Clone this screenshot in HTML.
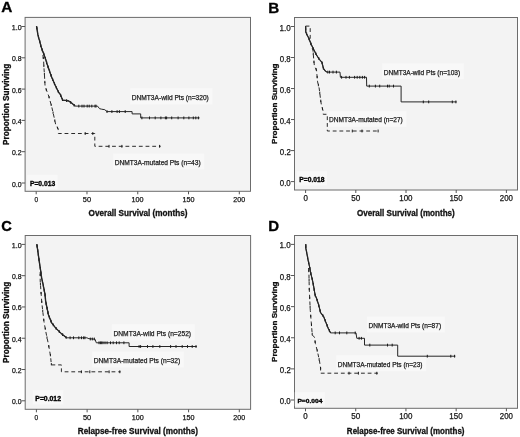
<!DOCTYPE html>
<html><head><meta charset="utf-8"><style>
html,body{margin:0;padding:0;background:#fff;width:520px;height:437px;overflow:hidden;}
svg{display:block;will-change:transform;filter:blur(0.3px);}
text{font-family:"Liberation Sans",sans-serif;}
</style></head><body>
<svg width="520" height="437" viewBox="0 0 520 437">
<rect x="25.1" y="17.4" width="225.4" height="173.9" fill="#f3f3f3" stroke="#6c6c6c" stroke-width="1"/>
<text x="1.22" y="12.30" font-size="14.2" font-weight="bold" stroke="#000" stroke-width="0.3" fill="#000" textLength="11.09" lengthAdjust="spacingAndGlyphs">A</text>
<line x1="21.6" y1="183.00" x2="25.1" y2="183.00" stroke="#555" stroke-width="1"/>
<text x="12.03" y="186.50" font-size="7.1" stroke="#151515" stroke-width="0.25" fill="#151515" textLength="9.54" lengthAdjust="spacingAndGlyphs">0.0</text>
<line x1="21.6" y1="151.70" x2="25.1" y2="151.70" stroke="#555" stroke-width="1"/>
<text x="12.03" y="155.20" font-size="7.1" stroke="#151515" stroke-width="0.25" fill="#151515" textLength="9.62" lengthAdjust="spacingAndGlyphs">0.2</text>
<line x1="21.6" y1="120.40" x2="25.1" y2="120.40" stroke="#555" stroke-width="1"/>
<text x="12.03" y="123.90" font-size="7.1" stroke="#151515" stroke-width="0.25" fill="#151515" textLength="9.47" lengthAdjust="spacingAndGlyphs">0.4</text>
<line x1="21.6" y1="89.10" x2="25.1" y2="89.10" stroke="#555" stroke-width="1"/>
<text x="12.03" y="92.60" font-size="7.1" stroke="#151515" stroke-width="0.25" fill="#151515" textLength="9.57" lengthAdjust="spacingAndGlyphs">0.6</text>
<line x1="21.6" y1="57.80" x2="25.1" y2="57.80" stroke="#555" stroke-width="1"/>
<text x="12.03" y="61.30" font-size="7.1" stroke="#151515" stroke-width="0.25" fill="#151515" textLength="9.57" lengthAdjust="spacingAndGlyphs">0.8</text>
<line x1="21.6" y1="26.50" x2="25.1" y2="26.50" stroke="#555" stroke-width="1"/>
<text x="11.76" y="30.00" font-size="7.1" stroke="#151515" stroke-width="0.25" fill="#151515" textLength="9.81" lengthAdjust="spacingAndGlyphs">1.0</text>
<line x1="36.20" y1="191.3" x2="36.20" y2="194.3" stroke="#555" stroke-width="1"/>
<text x="34.40" y="201.80" font-size="7.4" stroke="#151515" stroke-width="0.25" fill="#151515" textLength="3.61" lengthAdjust="spacingAndGlyphs">0</text>
<line x1="86.98" y1="191.3" x2="86.98" y2="194.3" stroke="#555" stroke-width="1"/>
<text x="82.83" y="201.80" font-size="7.4" stroke="#151515" stroke-width="0.25" fill="#151515" textLength="8.29" lengthAdjust="spacingAndGlyphs">50</text>
<line x1="137.75" y1="191.3" x2="137.75" y2="194.3" stroke="#555" stroke-width="1"/>
<text x="131.60" y="201.80" font-size="7.4" stroke="#151515" stroke-width="0.25" fill="#151515" textLength="12.03" lengthAdjust="spacingAndGlyphs">100</text>
<line x1="188.53" y1="191.3" x2="188.53" y2="194.3" stroke="#555" stroke-width="1"/>
<text x="182.38" y="201.80" font-size="7.4" stroke="#151515" stroke-width="0.25" fill="#151515" textLength="12.03" lengthAdjust="spacingAndGlyphs">150</text>
<line x1="239.30" y1="191.3" x2="239.30" y2="194.3" stroke="#555" stroke-width="1"/>
<text x="233.34" y="201.80" font-size="7.4" stroke="#151515" stroke-width="0.25" fill="#151515" textLength="11.83" lengthAdjust="spacingAndGlyphs">200</text>
<text x="0" y="0" transform="translate(9.40,144.95) rotate(-90)" font-size="8.5" font-weight="bold" stroke="#111" stroke-width="0.3" fill="#111" textLength="81.29" lengthAdjust="spacingAndGlyphs">Proportion Surviving</text>
<text x="88.56" y="216.00" font-size="8.6" font-weight="bold" stroke="#111" stroke-width="0.3" fill="#111" textLength="99.04" lengthAdjust="spacingAndGlyphs">Overall Survival (months)</text>
<rect x="294.5" y="17.5" width="223.0" height="172.5" fill="#f3f3f3" stroke="#6c6c6c" stroke-width="1"/>
<text x="268.18" y="12.60" font-size="14.2" font-weight="bold" stroke="#000" stroke-width="0.3" fill="#000" textLength="11.01" lengthAdjust="spacingAndGlyphs">B</text>
<line x1="291.0" y1="181.60" x2="294.5" y2="181.60" stroke="#555" stroke-width="1"/>
<text x="279.79" y="185.60" font-size="8.4" stroke="#151515" stroke-width="0.25" fill="#151515" textLength="10.91" lengthAdjust="spacingAndGlyphs">0.0</text>
<line x1="291.0" y1="150.58" x2="294.5" y2="150.58" stroke="#555" stroke-width="1"/>
<text x="279.79" y="154.58" font-size="8.4" stroke="#151515" stroke-width="0.25" fill="#151515" textLength="11.01" lengthAdjust="spacingAndGlyphs">0.2</text>
<line x1="291.0" y1="119.56" x2="294.5" y2="119.56" stroke="#555" stroke-width="1"/>
<text x="279.80" y="123.56" font-size="8.4" stroke="#151515" stroke-width="0.25" fill="#151515" textLength="10.83" lengthAdjust="spacingAndGlyphs">0.4</text>
<line x1="291.0" y1="88.54" x2="294.5" y2="88.54" stroke="#555" stroke-width="1"/>
<text x="279.79" y="92.54" font-size="8.4" stroke="#151515" stroke-width="0.25" fill="#151515" textLength="10.95" lengthAdjust="spacingAndGlyphs">0.6</text>
<line x1="291.0" y1="57.52" x2="294.5" y2="57.52" stroke="#555" stroke-width="1"/>
<text x="279.79" y="61.52" font-size="8.4" stroke="#151515" stroke-width="0.25" fill="#151515" textLength="10.95" lengthAdjust="spacingAndGlyphs">0.8</text>
<line x1="291.0" y1="26.50" x2="294.5" y2="26.50" stroke="#555" stroke-width="1"/>
<text x="279.48" y="30.50" font-size="8.4" stroke="#151515" stroke-width="0.25" fill="#151515" textLength="11.23" lengthAdjust="spacingAndGlyphs">1.0</text>
<line x1="305.60" y1="190" x2="305.60" y2="193" stroke="#555" stroke-width="1"/>
<text x="303.39" y="201.40" font-size="8.3" stroke="#151515" stroke-width="0.25" fill="#151515" textLength="4.42" lengthAdjust="spacingAndGlyphs">0</text>
<line x1="355.80" y1="190" x2="355.80" y2="193" stroke="#555" stroke-width="1"/>
<text x="351.27" y="201.40" font-size="8.3" stroke="#151515" stroke-width="0.25" fill="#151515" textLength="9.04" lengthAdjust="spacingAndGlyphs">50</text>
<line x1="406.00" y1="190" x2="406.00" y2="193" stroke="#555" stroke-width="1"/>
<text x="399.19" y="201.40" font-size="8.3" stroke="#151515" stroke-width="0.25" fill="#151515" textLength="13.32" lengthAdjust="spacingAndGlyphs">100</text>
<line x1="456.20" y1="190" x2="456.20" y2="193" stroke="#555" stroke-width="1"/>
<text x="449.39" y="201.40" font-size="8.3" stroke="#151515" stroke-width="0.25" fill="#151515" textLength="13.32" lengthAdjust="spacingAndGlyphs">150</text>
<line x1="506.40" y1="190" x2="506.40" y2="193" stroke="#555" stroke-width="1"/>
<text x="499.81" y="201.40" font-size="8.3" stroke="#151515" stroke-width="0.25" fill="#151515" textLength="13.10" lengthAdjust="spacingAndGlyphs">200</text>
<text x="0" y="0" transform="translate(276.80,143.94) rotate(-90)" font-size="8.0" font-weight="bold" stroke="#111" stroke-width="0.3" fill="#111" textLength="80.48" lengthAdjust="spacingAndGlyphs">Proportion Surviving</text>
<text x="356.97" y="215.80" font-size="8.6" font-weight="bold" stroke="#111" stroke-width="0.3" fill="#111" textLength="97.83" lengthAdjust="spacingAndGlyphs">Overall Survival (months)</text>
<rect x="25.2" y="235.5" width="225.4" height="173.8" fill="#f3f3f3" stroke="#6c6c6c" stroke-width="1"/>
<text x="1.20" y="230.90" font-size="14.2" font-weight="bold" stroke="#000" stroke-width="0.3" fill="#000" textLength="10.60" lengthAdjust="spacingAndGlyphs">C</text>
<line x1="21.7" y1="400.80" x2="25.2" y2="400.80" stroke="#555" stroke-width="1"/>
<text x="12.03" y="404.30" font-size="7.1" stroke="#151515" stroke-width="0.25" fill="#151515" textLength="9.54" lengthAdjust="spacingAndGlyphs">0.0</text>
<line x1="21.7" y1="369.52" x2="25.2" y2="369.52" stroke="#555" stroke-width="1"/>
<text x="12.03" y="373.02" font-size="7.1" stroke="#151515" stroke-width="0.25" fill="#151515" textLength="9.62" lengthAdjust="spacingAndGlyphs">0.2</text>
<line x1="21.7" y1="338.24" x2="25.2" y2="338.24" stroke="#555" stroke-width="1"/>
<text x="12.03" y="341.74" font-size="7.1" stroke="#151515" stroke-width="0.25" fill="#151515" textLength="9.47" lengthAdjust="spacingAndGlyphs">0.4</text>
<line x1="21.7" y1="306.96" x2="25.2" y2="306.96" stroke="#555" stroke-width="1"/>
<text x="12.03" y="310.46" font-size="7.1" stroke="#151515" stroke-width="0.25" fill="#151515" textLength="9.57" lengthAdjust="spacingAndGlyphs">0.6</text>
<line x1="21.7" y1="275.68" x2="25.2" y2="275.68" stroke="#555" stroke-width="1"/>
<text x="12.03" y="279.18" font-size="7.1" stroke="#151515" stroke-width="0.25" fill="#151515" textLength="9.57" lengthAdjust="spacingAndGlyphs">0.8</text>
<line x1="21.7" y1="244.40" x2="25.2" y2="244.40" stroke="#555" stroke-width="1"/>
<text x="11.76" y="247.90" font-size="7.1" stroke="#151515" stroke-width="0.25" fill="#151515" textLength="9.81" lengthAdjust="spacingAndGlyphs">1.0</text>
<line x1="36.40" y1="409.3" x2="36.40" y2="412.3" stroke="#555" stroke-width="1"/>
<text x="34.60" y="419.80" font-size="7.4" stroke="#151515" stroke-width="0.25" fill="#151515" textLength="3.61" lengthAdjust="spacingAndGlyphs">0</text>
<line x1="87.12" y1="409.3" x2="87.12" y2="412.3" stroke="#555" stroke-width="1"/>
<text x="82.98" y="419.80" font-size="7.4" stroke="#151515" stroke-width="0.25" fill="#151515" textLength="8.29" lengthAdjust="spacingAndGlyphs">50</text>
<line x1="137.85" y1="409.3" x2="137.85" y2="412.3" stroke="#555" stroke-width="1"/>
<text x="131.70" y="419.80" font-size="7.4" stroke="#151515" stroke-width="0.25" fill="#151515" textLength="12.03" lengthAdjust="spacingAndGlyphs">100</text>
<line x1="188.58" y1="409.3" x2="188.58" y2="412.3" stroke="#555" stroke-width="1"/>
<text x="182.43" y="419.80" font-size="7.4" stroke="#151515" stroke-width="0.25" fill="#151515" textLength="12.03" lengthAdjust="spacingAndGlyphs">150</text>
<line x1="239.30" y1="409.3" x2="239.30" y2="412.3" stroke="#555" stroke-width="1"/>
<text x="233.34" y="419.80" font-size="7.4" stroke="#151515" stroke-width="0.25" fill="#151515" textLength="11.83" lengthAdjust="spacingAndGlyphs">200</text>
<text x="0" y="0" transform="translate(9.40,362.95) rotate(-90)" font-size="8.5" font-weight="bold" stroke="#111" stroke-width="0.3" fill="#111" textLength="81.29" lengthAdjust="spacingAndGlyphs">Proportion Surviving</text>
<text x="77.75" y="433.90" font-size="8.6" font-weight="bold" stroke="#111" stroke-width="0.3" fill="#111" textLength="120.25" lengthAdjust="spacingAndGlyphs">Relapse-free Survival (months)</text>
<rect x="294.5" y="235.5" width="223.0" height="172.8" fill="#f3f3f3" stroke="#6c6c6c" stroke-width="1"/>
<text x="268.30" y="231.30" font-size="14.2" font-weight="bold" stroke="#000" stroke-width="0.3" fill="#000" textLength="10.83" lengthAdjust="spacingAndGlyphs">D</text>
<line x1="291.0" y1="400.00" x2="294.5" y2="400.00" stroke="#555" stroke-width="1"/>
<text x="279.79" y="404.00" font-size="8.4" stroke="#151515" stroke-width="0.25" fill="#151515" textLength="10.91" lengthAdjust="spacingAndGlyphs">0.0</text>
<line x1="291.0" y1="368.88" x2="294.5" y2="368.88" stroke="#555" stroke-width="1"/>
<text x="279.79" y="372.88" font-size="8.4" stroke="#151515" stroke-width="0.25" fill="#151515" textLength="11.01" lengthAdjust="spacingAndGlyphs">0.2</text>
<line x1="291.0" y1="337.76" x2="294.5" y2="337.76" stroke="#555" stroke-width="1"/>
<text x="279.80" y="341.76" font-size="8.4" stroke="#151515" stroke-width="0.25" fill="#151515" textLength="10.83" lengthAdjust="spacingAndGlyphs">0.4</text>
<line x1="291.0" y1="306.64" x2="294.5" y2="306.64" stroke="#555" stroke-width="1"/>
<text x="279.79" y="310.64" font-size="8.4" stroke="#151515" stroke-width="0.25" fill="#151515" textLength="10.95" lengthAdjust="spacingAndGlyphs">0.6</text>
<line x1="291.0" y1="275.52" x2="294.5" y2="275.52" stroke="#555" stroke-width="1"/>
<text x="279.79" y="279.52" font-size="8.4" stroke="#151515" stroke-width="0.25" fill="#151515" textLength="10.95" lengthAdjust="spacingAndGlyphs">0.8</text>
<line x1="291.0" y1="244.40" x2="294.5" y2="244.40" stroke="#555" stroke-width="1"/>
<text x="279.48" y="248.40" font-size="8.4" stroke="#151515" stroke-width="0.25" fill="#151515" textLength="11.23" lengthAdjust="spacingAndGlyphs">1.0</text>
<line x1="305.50" y1="408.3" x2="305.50" y2="411.3" stroke="#555" stroke-width="1"/>
<text x="303.29" y="419.20" font-size="8.3" stroke="#151515" stroke-width="0.25" fill="#151515" textLength="4.42" lengthAdjust="spacingAndGlyphs">0</text>
<line x1="355.73" y1="408.3" x2="355.73" y2="411.3" stroke="#555" stroke-width="1"/>
<text x="351.20" y="419.20" font-size="8.3" stroke="#151515" stroke-width="0.25" fill="#151515" textLength="9.04" lengthAdjust="spacingAndGlyphs">50</text>
<line x1="405.95" y1="408.3" x2="405.95" y2="411.3" stroke="#555" stroke-width="1"/>
<text x="399.14" y="419.20" font-size="8.3" stroke="#151515" stroke-width="0.25" fill="#151515" textLength="13.32" lengthAdjust="spacingAndGlyphs">100</text>
<line x1="456.17" y1="408.3" x2="456.17" y2="411.3" stroke="#555" stroke-width="1"/>
<text x="449.37" y="419.20" font-size="8.3" stroke="#151515" stroke-width="0.25" fill="#151515" textLength="13.32" lengthAdjust="spacingAndGlyphs">150</text>
<line x1="506.40" y1="408.3" x2="506.40" y2="411.3" stroke="#555" stroke-width="1"/>
<text x="499.81" y="419.20" font-size="8.3" stroke="#151515" stroke-width="0.25" fill="#151515" textLength="13.10" lengthAdjust="spacingAndGlyphs">200</text>
<text x="0" y="0" transform="translate(276.80,361.94) rotate(-90)" font-size="8.0" font-weight="bold" stroke="#111" stroke-width="0.3" fill="#111" textLength="80.48" lengthAdjust="spacingAndGlyphs">Proportion Surviving</text>
<text x="346.87" y="434.00" font-size="8.6" font-weight="bold" stroke="#111" stroke-width="0.3" fill="#111" textLength="117.63" lengthAdjust="spacingAndGlyphs">Relapse-free Survival (months)</text>
<rect x="130.20" y="88.20" width="82.30" height="16.20" fill="#f8f8f8"/>
<rect x="113.10" y="153.50" width="91.20" height="16.00" fill="#f8f8f8"/>
<rect x="27.30" y="174.90" width="30.30" height="14.20" fill="#f8f8f8"/>
<rect x="382.10" y="63.40" width="81.80" height="15.90" fill="#f8f8f8"/>
<rect x="327.50" y="111.10" width="79.00" height="15.80" fill="#f8f8f8"/>
<rect x="296.70" y="171.10" width="30.30" height="14.30" fill="#f8f8f8"/>
<rect x="111.90" y="324.30" width="82.90" height="16.10" fill="#f8f8f8"/>
<rect x="92.20" y="351.50" width="91.70" height="15.90" fill="#f8f8f8"/>
<rect x="32.70" y="390.20" width="30.60" height="14.20" fill="#f8f8f8"/>
<rect x="367.00" y="316.60" width="77.80" height="15.90" fill="#f8f8f8"/>
<rect x="336.20" y="355.30" width="90.00" height="15.90" fill="#f8f8f8"/>
<rect x="294.80" y="392.20" width="30.10" height="14.00" fill="#f8f8f8"/>
<polyline points="36.50,26.10 37.20,30.20 37.80,34.40 38.90,38.50 39.90,41.90 40.90,46.10 42.30,50.20 43.90,54.30 45.60,59.10 47.00,63.90 48.70,68.70 50.40,73.60 52.00,78.00 55.20,85.30 58.70,92.50 60.20,94.20 62.70,100.20 65.30,100.40 68.50,100.90 71.60,103.00 75.20,106.10" fill="none" stroke="#262626" stroke-width="1.3" stroke-linejoin="round"/>
<path d="M36.84 26.77v2.60 M37.53 31.22v2.60 M38.47 35.61v2.60 M39.71 39.94v2.60 M40.78 44.31v2.60 M42.19 48.58v2.60 M43.81 52.77v2.60 M45.32 57.01v2.60 M46.63 61.32v2.60 M48.06 65.58v2.60 M49.54 69.83v2.60 M51.04 74.07v2.60 M52.68 78.26v2.60 M54.49 82.38v2.60 M56.40 86.46v2.60 M58.36 90.51v2.60 M60.76 94.25v2.60 M62.49 98.40v2.60 M66.64 99.31v2.60 M70.67 101.07v2.60 M74.15 103.90v2.60" stroke="#1a1a1a" stroke-width="1.1" fill="none"/>
<polyline points="36.50,26.10 37.20,30.20 37.80,34.40 38.90,38.50 39.90,41.90 40.90,46.10 42.30,50.20 43.90,54.30 45.60,59.10 47.00,63.90 48.70,68.70 50.40,73.60 52.00,78.00 55.20,85.30 58.70,92.50 60.20,94.20 62.70,100.20 65.30,100.40 68.50,100.90 71.60,103.00 75.20,106.10 97.50,106.10 99.60,108.70 101.70,109.20 104.80,109.70 106.90,111.60 132.10,111.60 132.10,113.90 140.70,113.90 140.70,117.90 199.60,117.90" fill="none" stroke="#262626" stroke-width="1.0" stroke-linejoin="round"/>
<path d="M78.80 104.70v2.80 M82.00 104.70v2.80 M84.00 104.70v2.80 M87.20 104.70v2.80 M89.20 104.70v2.80 M91.80 104.70v2.80 M95.00 104.70v2.80 M96.00 104.70v2.80" stroke="#1a1a1a" stroke-width="1.0" fill="none"/>
<path d="M107.00 110.20v2.80 M111.90 110.20v2.80 M117.10 110.20v2.80 M119.40 110.20v2.80 M125.20 110.20v2.80" stroke="#1a1a1a" stroke-width="1.0" fill="none"/>
<path d="M141.90 116.50v2.80 M149.50 116.50v2.80 M155.20 116.50v2.80 M160.90 116.50v2.80 M165.40 116.50v2.80 M166.60 116.50v2.80 M171.70 116.50v2.80 M178.10 116.50v2.80 M183.80 116.50v2.80 M188.90 116.50v2.80 M193.30 116.50v2.80 M195.80 116.50v2.80 M198.40 116.50v2.80" stroke="#1a1a1a" stroke-width="1.0" fill="none"/>
<polyline points="42.90,55.00 43.60,60.50 43.90,66.70 44.40,74.00 45.10,86.50 48.80,96.30 51.90,107.50 54.40,118.60 56.00,126.00 58.10,128.40 58.40,133.50 94.80,133.50 94.80,146.30 160.70,146.30" fill="none" stroke="#2a2a2a" stroke-width="1.0" stroke-dasharray="3.8,2.9" stroke-dashoffset="0"/>
<path d="M43.28 56.88v2.20 M43.86 64.85v2.20 M44.40 72.83v2.20 M44.84 80.82v2.20 M46.31 88.59v2.20 M49.05 96.10v2.20 M51.18 103.81v2.20 M53.07 111.59v2.20 M54.81 119.39v2.20 M57.56 126.68v2.20" stroke="#1a1a1a" stroke-width="1.0" fill="none"/>
<path d="M85.20 132.10v2.80 M92.80 132.10v2.80" stroke="#1a1a1a" stroke-width="1.0" fill="none"/>
<path d="M109.00 144.90v2.80 M121.90 144.90v2.80 M159.60 144.90v2.80" stroke="#1a1a1a" stroke-width="1.0" fill="none"/>
<text x="131.76" y="99.90" font-size="7.56" stroke="#1a1a1a" stroke-width="0.25" fill="#1a1a1a" textLength="77.05" lengthAdjust="spacingAndGlyphs">DNMT3A-wild Pts (n=320)</text>
<text x="114.66" y="165.00" font-size="7.27" stroke="#1a1a1a" stroke-width="0.25" fill="#1a1a1a" textLength="85.95" lengthAdjust="spacingAndGlyphs">DNMT3A-mutated Pts (n=43)</text>
<text x="29.95" y="185.50" font-size="6.4" font-weight="bold" stroke="#000" stroke-width="0.32" fill="#000" textLength="25.29" lengthAdjust="spacingAndGlyphs">P=0.013</text>
<polyline points="305.60,26.10 305.80,32.30 308.90,38.50 311.00,44.00 313.70,49.50 316.50,55.00 319.20,59.10 322.00,62.50 323.40,68.30 325.20,70.90 326.90,72.10" fill="none" stroke="#262626" stroke-width="1.15" stroke-linejoin="round"/>
<path d="M305.68 27.30v2.60 M306.60 32.61v2.60 M309.03 37.54v2.60 M310.99 42.68v2.60 M313.41 47.62v2.60 M315.90 52.52v2.60 M318.80 57.19v2.60 M322.09 61.56v2.60 M323.38 66.90v2.60" stroke="#1a1a1a" stroke-width="1.1" fill="none"/>
<polyline points="305.60,26.10 305.80,32.30 308.90,38.50 311.00,44.00 313.70,49.50 316.50,55.00 319.20,59.10 322.00,62.50 323.40,68.30 325.20,70.90 326.90,72.10 340.00,72.10 340.40,77.30 366.50,77.30 366.70,86.10 401.10,86.10 401.10,101.90 456.60,101.90" fill="none" stroke="#262626" stroke-width="1.0" stroke-linejoin="round"/>
<path d="M327.80 70.70v2.80 M329.50 70.70v2.80 M333.00 70.70v2.80 M336.40 70.70v2.80" stroke="#1a1a1a" stroke-width="1.0" fill="none"/>
<path d="M341.60 75.90v2.80 M346.00 75.90v2.80 M349.40 75.90v2.80 M354.60 75.90v2.80 M357.20 75.90v2.80 M359.80 75.90v2.80 M362.40 75.90v2.80 M364.60 75.90v2.80" stroke="#1a1a1a" stroke-width="1.0" fill="none"/>
<path d="M369.30 84.70v2.80 M375.40 84.70v2.80 M379.70 84.70v2.80 M387.50 84.70v2.80 M389.20 84.70v2.80 M393.50 84.70v2.80" stroke="#1a1a1a" stroke-width="1.0" fill="none"/>
<path d="M423.30 100.50v2.80 M428.70 100.50v2.80 M452.30 100.50v2.80 M455.90 100.50v2.80" stroke="#1a1a1a" stroke-width="1.0" fill="none"/>
<polyline points="305.60,26.10 310.20,26.10 310.20,40.00 311.00,44.00 313.00,50.80 313.70,59.10 314.40,66.00 316.50,70.00 317.60,81.90 319.10,87.90 319.90,93.80 320.60,99.80 321.40,105.00 322.90,110.20 323.20,114.30 327.30,114.30 327.30,131.00 379.20,131.00" fill="none" stroke="#2a2a2a" stroke-width="1.0" stroke-dasharray="3.8,2.9" stroke-dashoffset="0"/>
<path d="M313.25 52.59v2.40 M313.97 60.56v2.40 M316.14 68.11v2.40 M317.16 75.99v2.40 M318.39 83.87v2.40 M319.78 91.74v2.40 M320.77 99.67v2.40 M322.46 107.48v2.40" stroke="#1a1a1a" stroke-width="1.0" fill="none"/>
<path d="M352.30 129.60v2.80 M362.00 129.60v2.80 M378.10 129.60v2.80" stroke="#1a1a1a" stroke-width="1.0" fill="none"/>
<text x="383.66" y="74.80" font-size="7.12" stroke="#1a1a1a" stroke-width="0.25" fill="#1a1a1a" textLength="76.55" lengthAdjust="spacingAndGlyphs">DNMT3A-wild Pts (n=103)</text>
<text x="329.06" y="122.40" font-size="6.98" stroke="#1a1a1a" stroke-width="0.25" fill="#1a1a1a" textLength="73.74" lengthAdjust="spacingAndGlyphs">DNMT3A-mutated (n=27)</text>
<text x="299.35" y="181.80" font-size="6.54" font-weight="bold" stroke="#000" stroke-width="0.32" fill="#000" textLength="25.26" lengthAdjust="spacingAndGlyphs">P=0.018</text>
<polyline points="36.80,244.10 38.20,253.70 39.60,264.00 40.50,269.50 41.60,277.80 43.00,284.00 45.00,294.30 45.70,301.50 48.40,314.70 51.70,322.90 55.60,327.90 61.10,333.40 66.60,337.80" fill="none" stroke="#262626" stroke-width="1.3" stroke-linejoin="round"/>
<path d="M37.09 244.78v2.60 M37.74 249.23v2.60 M38.37 253.69v2.60 M38.98 258.15v2.60 M39.59 262.60v2.60 M40.31 267.05v2.60 M40.94 271.50v2.60 M41.53 275.96v2.60 M42.47 280.36v2.60 M43.40 284.76v2.60 M44.26 289.18v2.60 M45.06 293.61v2.60 M45.49 298.09v2.60 M46.18 302.53v2.60 M47.08 306.94v2.60 M47.98 311.34v2.60 M49.30 315.63v2.60 M50.98 319.80v2.60 M53.28 323.62v2.60 M56.11 327.11v2.60 M59.29 330.29v2.60 M62.62 333.31v2.60 M66.13 336.13v2.60" stroke="#1a1a1a" stroke-width="1.1" fill="none"/>
<polyline points="36.80,244.10 38.20,253.70 39.60,264.00 40.50,269.50 41.60,277.80 43.00,284.00 45.00,294.30 45.70,301.50 48.40,314.70 51.70,322.90 55.60,327.90 61.10,333.40 66.60,337.80 86.90,337.80 88.90,338.70 95.00,339.20 96.30,342.80 129.10,342.80 129.10,346.50 196.80,346.50" fill="none" stroke="#262626" stroke-width="1.0" stroke-linejoin="round"/>
<path d="M70.10 336.40v2.80 M73.50 336.40v2.80 M78.80 336.40v2.80 M81.50 336.40v2.80 M83.60 336.40v2.80 M84.90 336.40v2.80" stroke="#1a1a1a" stroke-width="1.0" fill="none"/>
<path d="M90.30 337.60v2.80 M92.30 337.60v2.80 M94.30 337.60v2.80" stroke="#1a1a1a" stroke-width="1.0" fill="none"/>
<path d="M99.00 341.40v2.80 M100.40 341.40v2.80 M101.70 341.40v2.80 M103.00 341.40v2.80 M105.00 341.40v2.80 M107.10 341.40v2.80 M110.50 341.40v2.80 M113.20 341.40v2.80 M116.50 341.40v2.80 M119.20 341.40v2.80 M123.90 341.40v2.80" stroke="#1a1a1a" stroke-width="1.0" fill="none"/>
<path d="M139.10 345.10v2.80 M140.60 345.10v2.80 M147.50 345.10v2.80 M152.90 345.10v2.80 M159.80 345.10v2.80 M170.60 345.10v2.80 M176.00 345.10v2.80 M182.20 345.10v2.80 M187.50 345.10v2.80 M192.20 345.10v2.80 M196.00 345.10v2.80" stroke="#1a1a1a" stroke-width="1.0" fill="none"/>
<polyline points="40.20,272.00 40.20,281.00 41.30,296.00 41.80,302.60 42.90,312.50 44.00,321.80 45.10,327.90 46.80,336.70 48.40,344.00 50.50,355.80 51.40,364.90 61.40,364.90 61.40,371.80 120.60,371.80" fill="none" stroke="#2a2a2a" stroke-width="1.0" stroke-dasharray="3.8,2.9" stroke-dashoffset="0"/>
<path d="M40.20 273.90v2.20 M40.42 282.89v2.20 M41.08 291.87v2.20 M41.75 300.84v2.20 M42.72 309.79v2.20 M43.77 318.73v2.20 M45.25 327.60v2.20 M46.98 336.43v2.20 M48.82 345.24v2.20 M50.39 354.10v2.20 M51.33 363.05v2.20" stroke="#1a1a1a" stroke-width="1.0" fill="none"/>
<path d="M81.40 370.40v2.80 M89.80 370.40v2.80 M109.10 370.40v2.80 M119.80 370.40v2.80" stroke="#1a1a1a" stroke-width="1.0" fill="none"/>
<text x="113.45" y="335.90" font-size="7.41" stroke="#1a1a1a" stroke-width="0.25" fill="#1a1a1a" textLength="77.66" lengthAdjust="spacingAndGlyphs">DNMT3A-wild Pts (n=252)</text>
<text x="93.75" y="362.90" font-size="7.12" stroke="#1a1a1a" stroke-width="0.25" fill="#1a1a1a" textLength="86.46" lengthAdjust="spacingAndGlyphs">DNMT3A-mutated Pts (n=32)</text>
<text x="35.34" y="400.80" font-size="6.4" font-weight="bold" stroke="#000" stroke-width="0.32" fill="#000" textLength="25.63" lengthAdjust="spacingAndGlyphs">P=0.012</text>
<polyline points="305.80,244.10 305.80,248.20 306.90,253.70 308.20,260.60 309.60,266.80 311.00,274.30 312.40,279.80 313.70,286.70 315.10,295.00 316.50,298.20 318.50,304.40 320.60,312.60 323.70,316.70 325.70,321.90 328.30,328.50 330.60,332.90" fill="none" stroke="#262626" stroke-width="1.15" stroke-linejoin="round"/>
<path d="M305.80 245.30v2.60 M306.56 250.72v2.60 M307.60 256.13v2.60 M308.70 261.51v2.60 M309.86 266.89v2.60 M310.87 272.30v2.60 M312.18 277.64v2.60 M313.25 283.03v2.60 M314.21 288.44v2.60 M315.17 293.86v2.60 M317.17 298.97v2.60 M318.79 304.23v2.60 M320.15 309.55v2.60 M322.83 314.25v2.60 M325.16 319.19v2.60 M327.16 324.31v2.60 M329.41 329.32v2.60" stroke="#1a1a1a" stroke-width="1.1" fill="none"/>
<polyline points="305.80,244.10 305.80,248.20 306.90,253.70 308.20,260.60 309.60,266.80 311.00,274.30 312.40,279.80 313.70,286.70 315.10,295.00 316.50,298.20 318.50,304.40 320.60,312.60 323.70,316.70 325.70,321.90 328.30,328.50 330.60,332.90 356.00,332.90 356.80,338.30 364.50,338.30 364.50,345.10 397.70,345.10 397.70,356.20 455.30,356.20" fill="none" stroke="#262626" stroke-width="1.0" stroke-linejoin="round"/>
<path d="M335.20 331.50v2.80 M339.50 331.50v2.80 M346.80 331.50v2.80 M355.20 331.50v2.80" stroke="#1a1a1a" stroke-width="1.0" fill="none"/>
<path d="M359.10 336.90v2.80 M361.40 336.90v2.80" stroke="#1a1a1a" stroke-width="1.0" fill="none"/>
<path d="M369.80 343.70v2.80 M387.50 343.70v2.80 M392.20 343.70v2.80" stroke="#1a1a1a" stroke-width="1.0" fill="none"/>
<path d="M427.30 354.80v2.80 M450.80 354.80v2.80 M454.60 354.80v2.80" stroke="#1a1a1a" stroke-width="1.0" fill="none"/>
<polyline points="308.50,268.00 308.90,272.00 309.30,290.00 310.30,310.60 311.30,322.90 312.30,335.30 314.40,336.90 315.40,343.50 317.50,351.70 319.50,361.00 320.60,368.20 320.60,373.20 377.90,373.20" fill="none" stroke="#2a2a2a" stroke-width="1.0" stroke-dasharray="3.8,2.9" stroke-dashoffset="0"/>
<path d="M308.80 269.79v2.40 M309.08 278.78v2.40 M309.28 287.78v2.40 M309.69 296.77v2.40 M310.12 305.76v2.40 M310.73 314.73v2.40 M311.46 323.70v2.40 M312.19 332.68v2.40 M315.14 340.57v2.40 M317.20 349.33v2.40 M319.14 358.12v2.40 M320.60 366.99v2.40" stroke="#1a1a1a" stroke-width="1.0" fill="none"/>
<path d="M349.00 371.80v2.80 M358.40 371.80v2.80 M376.80 371.80v2.80" stroke="#1a1a1a" stroke-width="1.0" fill="none"/>
<text x="368.56" y="328.00" font-size="7.12" stroke="#1a1a1a" stroke-width="0.25" fill="#1a1a1a" textLength="72.54" lengthAdjust="spacingAndGlyphs">DNMT3A-wild Pts (n=87)</text>
<text x="337.76" y="366.70" font-size="7.12" stroke="#1a1a1a" stroke-width="0.25" fill="#1a1a1a" textLength="84.74" lengthAdjust="spacingAndGlyphs">DNMT3A-mutated Pts (n=23)</text>
<text x="297.46" y="402.60" font-size="6.1" font-weight="bold" stroke="#000" stroke-width="0.32" fill="#000" textLength="24.88" lengthAdjust="spacingAndGlyphs">P=0.004</text>
</svg>
</body></html>
